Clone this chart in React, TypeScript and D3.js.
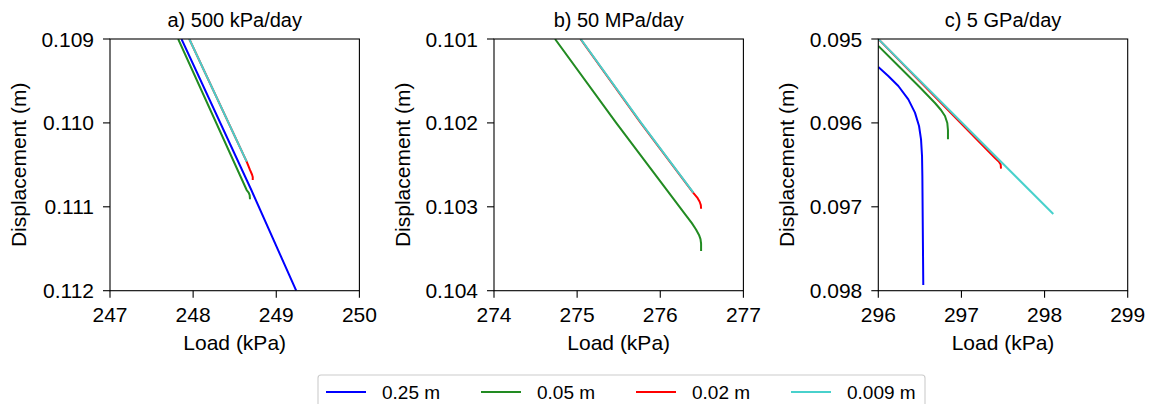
import React from 'react';
import * as d3 from 'd3';

// legend / series
const seriesLabels = ['0.25 m', '0.05 m', '0.02 m', '0.009 m'];
const seriesColors = ['#0000ff', '#228b22', '#ff0000', '#48d1cc'];

// panel titles and axis ranges
const panelTitles = ['a) 500 kPa/day', 'b) 50 MPa/day', 'c) 5 GPa/day'];
const loadTicks = [
  [247, 248, 249, 250],
  [274, 275, 276, 277],
  [296, 297, 298, 299],
];
const dispTicks = [
  [0.109, 0.11, 0.111, 0.112],
  [0.101, 0.102, 0.103, 0.104],
  [0.095, 0.096, 0.097, 0.098],
];

// a) 500 kPa/day
const aBlueLoad = [247.86, 248.7, 249.24];
const aBlueDisp = [0.109, 0.1108, 0.112];
const aGreenLoad = [247.82, 248.644, 248.668, 248.68, 248.684];
const aGreenDisp = [0.109, 0.1108, 0.11083, 0.11086, 0.11091];
const aRedLoad = [247.954, 248.644, 248.684, 248.708, 248.717, 248.717];
const aRedDisp = [0.109, 0.110462, 0.110561, 0.110615, 0.110645, 0.11068];
const aCyanLoad = [247.954, 248.644];
const aCyanDisp = [0.109, 0.110462];

// b) 50 MPa/day (0.25 m is off the plotted range)
const bBlueLoad: number[] = [];
const bBlueDisp: number[] = [];
const bGreenLoad = [274.734, 275.47, 276.3, 276.38, 276.43, 276.466, 276.484, 276.491, 276.491];
const bGreenDisp = [0.101, 0.102, 0.10309, 0.103195, 0.10327, 0.103335, 0.103385, 0.10344, 0.103527];
const bRedLoad = [275.04, 275.765, 276.395, 276.445, 276.474, 276.488, 276.491];
const bRedDisp = [0.101, 0.102, 0.102832, 0.10289, 0.10294, 0.10298, 0.103023];
const bCyanLoad = [275.043, 275.77, 276.398];
const bCyanDisp = [0.101, 0.102, 0.102832];

// c) 5 GPa/day
const cBlueLoad = [296.0, 296.12, 296.241, 296.361, 296.441, 296.49, 296.514, 296.526, 296.53, 296.534, 296.541];
const cBlueDisp = [0.095334, 0.095441, 0.09556, 0.095719, 0.095878, 0.096037, 0.096196, 0.096394, 0.096633, 0.09712, 0.097932];
const cGreenLoad = [296.0, 296.261, 296.502, 296.682, 296.754, 296.802, 296.83, 296.838, 296.838];
const cGreenDisp = [0.095083, 0.09534, 0.095578, 0.095763, 0.095846, 0.095918, 0.096001, 0.096085, 0.096195];
const cRedLoad = [296.0, 297.404, 297.452, 297.472, 297.476];
const cRedDisp = [0.095, 0.096418, 0.096465, 0.096495, 0.096545];
const cCyanLoad = [296.0, 298.105];
const cCyanDisp = [0.095, 0.097086];

const panels = [
  [[aBlueLoad, aBlueDisp], [aGreenLoad, aGreenDisp], [aRedLoad, aRedDisp], [aCyanLoad, aCyanDisp]],
  [[bBlueLoad, bBlueDisp], [bGreenLoad, bGreenDisp], [bRedLoad, bRedDisp], [bCyanLoad, bCyanDisp]],
  [[cBlueLoad, cBlueDisp], [cGreenLoad, cGreenDisp], [cRedLoad, cRedDisp], [cCyanLoad, cCyanDisp]],
];

const W = 1150;
const H = 404;
const panelLeft = [110, 494, 878.3];
const panelTop = 39;
const panelW = 249.4;
const panelH = 251.7;
const font = 'Liberation Sans, Arial, sans-serif';

const Panel = ({ idx }: { idx: number }) => {
  const x0 = panelLeft[idx];
  const lt = loadTicks[idx];
  const dt = dispTicks[idx];
  const x = d3.scaleLinear().domain([lt[0], lt[lt.length - 1]]).range([0, panelW]);
  const y = d3.scaleLinear().domain([dt[0], dt[dt.length - 1]]).range([0, panelH]);
  const line = d3
    .line<[number, number]>()
    .x(d => x(d[0]))
    .y(d => y(d[1]));
  const clipId = `clip-${idx}`;

  return (
    <g transform={`translate(${x0},${panelTop})`}>
      <defs>
        <clipPath id={clipId}>
          <rect x={0} y={0} width={panelW} height={panelH} />
        </clipPath>
      </defs>
      <g clipPath={`url(#${clipId})`}>
        {panels[idx].map(([loads, disps], s) => {
          if (!loads.length) return null;
          const pts = loads.map((l, i) => [l, disps[i]] as [number, number]);
          return (
            <path
              key={s}
              d={line(pts) || ''}
              fill="none"
              stroke={seriesColors[s]}
              strokeWidth={2}
              strokeLinejoin="round"
            />
          );
        })}
      </g>
      <rect x={0} y={0} width={panelW} height={panelH} fill="none" stroke="#000" strokeWidth={1.1} />
      {lt.map(t => (
        <g key={t} transform={`translate(${x(t)},${panelH})`}>
          <line y1={0} y2={7} stroke="#000" strokeWidth={1.1} />
          <text y={31} textAnchor="middle" fontSize={21} fontFamily={font} fill="#000">
            {t}
          </text>
        </g>
      ))}
      {dt.map(t => (
        <g key={t} transform={`translate(0,${y(t)})`}>
          <line x1={0} x2={-7} stroke="#000" strokeWidth={1.1} />
          <text x={-16} dy="0.36em" textAnchor="end" fontSize={21} fontFamily={font} fill="#000">
            {d3.format('.3f')(t)}
          </text>
        </g>
      ))}
      <text x={panelW / 2} y={-12} textAnchor="middle" fontSize={20} fontFamily={font} fill="#000">
        {panelTitles[idx]}
      </text>
      <text x={panelW / 2} y={panelH + 59} textAnchor="middle" fontSize={21} fontFamily={font} fill="#000">
        Load (kPa)
      </text>
      <text
        transform={`translate(-84,${panelH / 2}) rotate(-90)`}
        textAnchor="middle"
        fontSize={21}
        fontFamily={font}
        fill="#000"
      >
        Displacement (m)
      </text>
    </g>
  );
};

const Legend = () => {
  const left = 318;
  const top = 375;
  const step = 155;
  return (
    <g>
      <rect x={left} y={top} width={607} height={36} rx={3} fill="#fff" stroke="#cccccc" strokeWidth={1.1} />
      {seriesLabels.map((lab, i) => {
        const hx = left + 8 + i * step;
        return (
          <g key={lab}>
            <line x1={hx} x2={hx + 40} y1={392} y2={392} stroke={seriesColors[i]} strokeWidth={2} />
            <text x={hx + 56} y={399} fontSize={19} fontFamily={font} fill="#000">
              {lab}
            </text>
          </g>
        );
      })}
    </g>
  );
};

export default function App() {
  return (
    <svg
      width={W}
      height={H}
      style={{ position: 'absolute', left: 0, top: 0, background: '#fff' }}
    >
      <rect width={W} height={H} fill="#fff" />
      {[0, 1, 2].map(i => (
        <Panel key={i} idx={i} />
      ))}
      <Legend />
    </svg>
  );
}
